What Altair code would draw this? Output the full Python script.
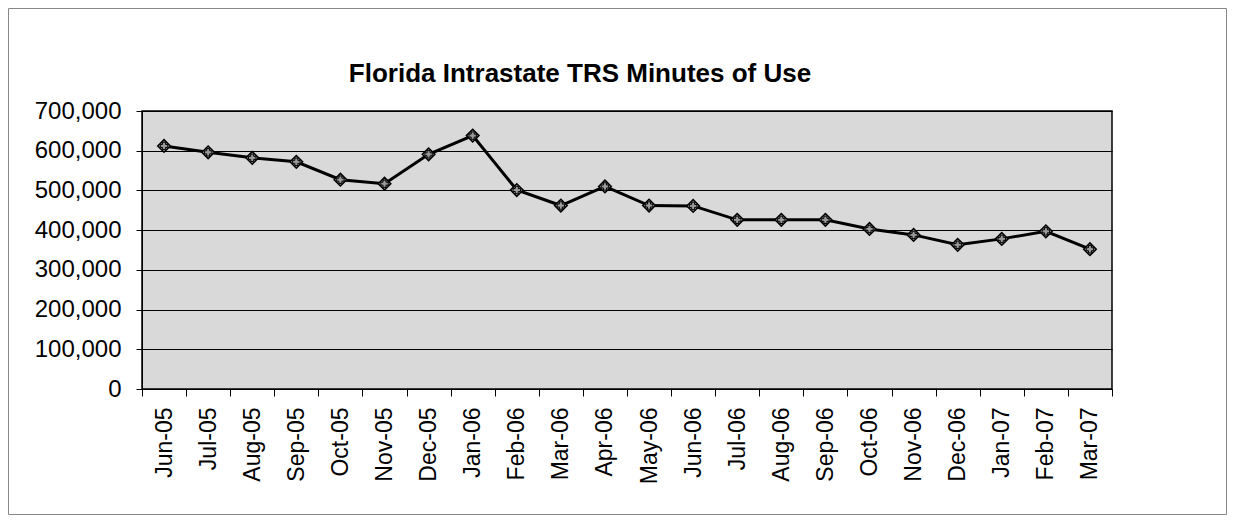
import altair as alt
import pandas as pd

title_text = "Florida Intrastate TRS Minutes of Use"
months = ["Jun-05", "Jul-05", "Aug-05", "Sep-05", "Oct-05", "Nov-05", "Dec-05",
          "Jan-06", "Feb-06", "Mar-06", "Apr-06", "May-06", "Jun-06", "Jul-06",
          "Aug-06", "Sep-06", "Oct-06", "Nov-06", "Dec-06", "Jan-07", "Feb-07", "Mar-07"]
minutes = [612000, 596000, 582000, 572000, 527000, 517000, 591000,
           638000, 501000, 462000, 510000, 462000, 461000, 426000,
           426000, 426000, 403000, 388000, 363000, 378000, 397000, 352000]
y_ticks = [0, 100000, 200000, 300000, 400000, 500000, 600000, 700000]

df = pd.DataFrame({"month": months, "minutes": minutes})

FONT = "Liberation Sans"

x = alt.X("month:N", sort=months, title=None,
          scale=alt.Scale(paddingInner=0, paddingOuter=0),
          axis=alt.Axis(labelAngle=270, labelAlign="right", labelBaseline="middle",
                        labelFontSize=23, labelFont=FONT, labelColor="black",
                        labelPadding=11, tickBand="extent", ticks=True, tickSize=7,
                        tickColor="black", domainColor="black", grid=False,
                        labelOverlap=False))
y = alt.Y("minutes:Q", title=None,
          scale=alt.Scale(domain=[0, 700000], nice=False),
          axis=alt.Axis(values=y_ticks, format=",d", labelFontSize=24, labelFont=FONT,
                        labelColor="black", labelPadding=15, tickSize=6,
                        tickColor="black", domainColor="black", grid=True,
                        gridColor="black", gridWidth=1, gridOpacity=1))

base = alt.Chart(df)
line = base.mark_line(color="black", strokeWidth=3).encode(x=x, y=y)
pts = base.mark_point(shape="diamond", filled=True, fill="#9a9a9a", stroke="black",
                      strokeWidth=1.5, size=160, opacity=1).encode(x=x, y=y)
cross = base.mark_point(shape="cross", filled=False, stroke="black",
                        strokeWidth=1, size=55, opacity=1).encode(x=x, y=y)

deco = pd.DataFrame({"t": [title_text]})
fr = dict(color="#888888", strokeWidth=1)
L, R, T, B = -133.5, 1084.5, -102.5, 403.5
frame_top = alt.Chart(deco).mark_rule(**fr).encode(
    x=alt.value(L), x2=alt.value(R), y=alt.value(T))
frame_bottom = alt.Chart(deco).mark_rule(**fr).encode(
    x=alt.value(L), x2=alt.value(R), y=alt.value(B))
frame_left = alt.Chart(deco).mark_rule(**fr).encode(
    x=alt.value(L), y=alt.value(T), y2=alt.value(B))
frame_right = alt.Chart(deco).mark_rule(**fr).encode(
    x=alt.value(R), y=alt.value(T), y2=alt.value(B))
title = alt.Chart(deco).mark_text(
    font=FONT, fontSize=26, fontWeight="bold", color="black",
    align="center", baseline="alphabetic"
).encode(text="t:N", x=alt.value(438), y=alt.value(-29))

chart = alt.layer(frame_top, frame_bottom, frame_left, frame_right,
                  line, pts, cross, title).properties(
    width=970, height=278,
    autosize=alt.AutoSizeParams(type="none"),
    padding={"left": 134, "top": 103, "right": 116, "bottom": 127},
).configure_view(fill="#d9d9d9", stroke="black", strokeWidth=1.5)

chart.save("out.html", embed_options={"renderer": "svg", "actions": False})
